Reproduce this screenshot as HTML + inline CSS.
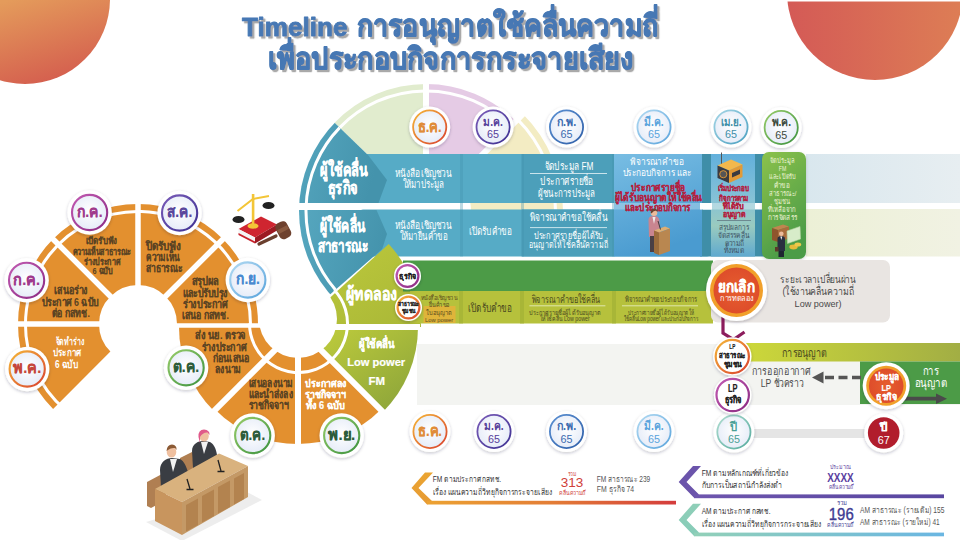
<!DOCTYPE html>
<html lang="th"><head><meta charset="utf-8"><title>Timeline การอนุญาตใช้คลื่นความถี่เพื่อประกอบกิจการกระจายเสียง</title>
<style>
html,body{margin:0;padding:0;background:#fff;}
body{width:960px;height:540px;overflow:hidden;position:relative;font-family:"Liberation Sans",sans-serif;}
svg{position:absolute;left:0;top:0;display:block;}
svg text{font-family:"Liberation Sans",sans-serif;white-space:pre;}
</style></head><body>
<svg width="960" height="540" viewBox="0 0 960 540">
<defs>
<linearGradient id="gTL" gradientUnits="userSpaceOnUse" x1="10" y1="0" x2="35" y2="84"><stop offset="0" stop-color="#e49b5b"/><stop offset="1" stop-color="#d5614f"/></linearGradient>
<linearGradient id="gTR" gradientUnits="userSpaceOnUse" x1="788" y1="0" x2="960" y2="0"><stop offset="0" stop-color="#d45a56"/><stop offset="1" stop-color="#dd7d55"/></linearGradient>
<linearGradient id="gTeal" x1="0" y1="0" x2="1" y2="0.3"><stop offset="0" stop-color="#58a9c1"/><stop offset="1" stop-color="#4493ac"/></linearGradient>
<linearGradient id="gLP" x1="0" y1="0" x2="1" y2="1"><stop offset="0" stop-color="#c5d13c"/><stop offset="1" stop-color="#88a13a"/></linearGradient>
<linearGradient id="gTest" x1="0" y1="0" x2="1" y2="1"><stop offset="0" stop-color="#bfcb3c"/><stop offset="1" stop-color="#a9b737"/></linearGradient>
<linearGradient id="gRow1R" x1="0" y1="0" x2="1" y2="0"><stop offset="0" stop-color="#d9e7ee"/><stop offset="1" stop-color="#e7eef1"/></linearGradient>
<linearGradient id="gRow2R" x1="0" y1="0" x2="1" y2="0"><stop offset="0" stop-color="#ecf0d6"/><stop offset="1" stop-color="#f1f2e3"/></linearGradient>
<linearGradient id="gD" x1="0" y1="0" x2="0.3" y2="1"><stop offset="0" stop-color="#78bde3"/><stop offset="1" stop-color="#4a9bd0"/></linearGradient>
<linearGradient id="gE" x1="0" y1="0" x2="0" y2="1"><stop offset="0" stop-color="#62b0dc"/><stop offset="0.45" stop-color="#86c2d6"/><stop offset="0.7" stop-color="#9acbbf"/><stop offset="1" stop-color="#5fa9cf"/></linearGradient>
<linearGradient id="gF" x1="0" y1="0" x2="0.4" y2="1"><stop offset="0" stop-color="#8cc24c"/><stop offset="1" stop-color="#4c9c47"/></linearGradient>
<linearGradient id="gAnu" x1="0" y1="0" x2="1" y2="0"><stop offset="0" stop-color="#cdd83a"/><stop offset="1" stop-color="#a2ae44"/></linearGradient>
<linearGradient id="gFM" x1="0" y1="0" x2="1" y2="0"><stop offset="0" stop-color="#eca232"/><stop offset="0.5" stop-color="#e37d36"/><stop offset="1" stop-color="#d43c3c"/></linearGradient>
<linearGradient id="gFMc" x1="0" y1="0" x2="0" y2="1"><stop offset="0" stop-color="#eba532"/><stop offset="1" stop-color="#e69a34"/></linearGradient>
<linearGradient id="gPur" x1="0" y1="0" x2="1" y2="0"><stop offset="0" stop-color="#6e56ae"/><stop offset="1" stop-color="#5846a0"/></linearGradient>
<linearGradient id="gAM" x1="0" y1="0" x2="1" y2="0"><stop offset="0" stop-color="#92d0b8"/><stop offset="1" stop-color="#6ab6e2"/></linearGradient>
<linearGradient id="gAMc" x1="0" y1="0" x2="0" y2="1"><stop offset="0" stop-color="#8fcfb8"/><stop offset="1" stop-color="#86cbb8"/></linearGradient>
<linearGradient id="rOr" x1="0" y1="0" x2="1" y2="1"><stop offset="0" stop-color="#f5b738"/><stop offset="1" stop-color="#d9412f"/></linearGradient>
<linearGradient id="rMag" x1="0" y1="0" x2="1" y2="1"><stop offset="0" stop-color="#c25bb2"/><stop offset="1" stop-color="#8b2a83"/></linearGradient>
<linearGradient id="rPur" x1="0" y1="0" x2="1" y2="1"><stop offset="0" stop-color="#7a5cb8"/><stop offset="1" stop-color="#3e3192"/></linearGradient>
<linearGradient id="rBlu" x1="0" y1="0" x2="1" y2="1"><stop offset="0" stop-color="#5b90d2"/><stop offset="1" stop-color="#2f5fa8"/></linearGradient>
<linearGradient id="rLb" x1="0" y1="0" x2="1" y2="1"><stop offset="0" stop-color="#b2daf2"/><stop offset="1" stop-color="#5aa4dc"/></linearGradient>
<linearGradient id="rTl" x1="0" y1="0" x2="1" y2="1"><stop offset="0" stop-color="#a6d6e6"/><stop offset="1" stop-color="#4aa0c0"/></linearGradient>
<linearGradient id="rGr" x1="0" y1="0" x2="1" y2="1"><stop offset="0" stop-color="#98cc6a"/><stop offset="1" stop-color="#3c923f"/></linearGradient>
<linearGradient id="rTg" x1="0" y1="0" x2="1" y2="1"><stop offset="0" stop-color="#b0dcd0"/><stop offset="1" stop-color="#55ab9e"/></linearGradient>
<radialGradient id="cIn" cx="0.5" cy="0.45" r="0.55"><stop offset="0" stop-color="#ffffff"/><stop offset="1" stop-color="#e6ecf8"/></radialGradient>
<radialGradient id="gRed" cx="0.5" cy="0.5" r="0.5"><stop offset="0" stop-color="#e65e2e"/><stop offset="1" stop-color="#de4d2b"/></radialGradient>
<filter id="sh" x="-40%" y="-40%" width="180%" height="180%"><feDropShadow dx="0" dy="1.2" stdDeviation="1.8" flood-color="#1a2040" flood-opacity="0.25"/></filter>
<filter id="sh2" x="-10%" y="-10%" width="120%" height="130%"><feDropShadow dx="0" dy="1" stdDeviation="1.5" flood-color="#000" flood-opacity="0.18"/></filter>
<filter id="tsh" x="-5%" y="-20%" width="110%" height="150%"><feDropShadow dx="2.2" dy="2.2" stdDeviation="0.5" flood-color="#a9a9a9" flood-opacity="1"/></filter>
<clipPath id="cC3"><circle cx="426" cy="211" r="127"/></clipPath>
</defs>

<circle cx="25" cy="-1" r="85" fill="url(#gTL)"/>
<circle cx="875" cy="-8" r="88" fill="url(#gTR)"/>
<rect x="780" y="0" width="180" height="1.5" fill="#fff"/>
<path d="M334.6,122.8 A127,127 0 0 1 426,84 L426,166 A45,45 0 0 0 393.6,179.7 Z" fill="#e1ecce"/>
<path d="M426,84 A127,127 0 0 1 515.8,121.2 L457.8,179.2 A45,45 0 0 0 426,166 Z" fill="#e5cbe5"/>
<path d="M522.9,114.1 A137,137 0 0 1 563,211 L471,211 A45,45 0 0 0 457.8,179.2 Z" fill="#f3ecc3"/>
<path d="M339.7,127.6 A120,120 0 0 1 510.9,126.1" stroke="#fff" stroke-width="3" fill="none"/>
<path d="M517.6,119.4 A129.5,129.5 0 0 1 555.5,211" stroke="#fff" stroke-width="3" fill="none"/>
<path d="M426,168 L426,71" stroke="#fff" stroke-width="6" fill="none"/>
<path d="M456.4,180.6 L525,112" stroke="#fff" stroke-width="6" fill="none"/>
<rect x="360" y="154" width="350" height="49" fill="#56abc6"/>
<rect x="360" y="209.5" width="350" height="47" rx="3" fill="#56abc6"/>
<rect x="522" y="154" width="92" height="49" fill="#4c9fba"/>
<rect x="522" y="209.5" width="92" height="47" fill="#4c9fba"/>
<rect x="460" y="154" width="3" height="102.5" fill="#4393ad" opacity="0.35"/>
<rect x="521" y="154" width="3" height="102.5" fill="#4393ad" opacity="0.35"/>
<rect x="612" y="154" width="3" height="102.5" fill="#4393ad" opacity="0.35"/>
<rect x="806" y="154" width="154" height="49" fill="url(#gRow1R)"/>
<rect x="806" y="209" width="154" height="47.5" fill="url(#gRow2R)"/>
<rect x="700" y="154" width="64" height="102.5" fill="#3f8ea8"/>
<rect x="614" y="154" width="88" height="102.5" fill="url(#gD)"/>
<rect x="711" y="154" width="44" height="102.5" fill="url(#gE)"/>
<rect x="700" y="203" width="12" height="6.5" fill="#fff"/>
<rect x="755" y="203" width="8" height="6.5" fill="#fff"/>
<rect x="703" y="203" width="8" height="6.5" fill="#fff"/>
<g filter="url(#sh2)"><rect x="762" y="152" width="44" height="107" rx="7" fill="url(#gF)"/></g>
<rect x="614" y="203" width="88" height="6.5" fill="#fff" opacity="0.28"/>
<rect x="711" y="203" width="44" height="6.5" fill="#fff" opacity="0.35"/>
<g clip-path="url(#cC3)">
<path d="M368,155 L318.1,106.8 L290,100 L290,203 L378.5,203 L387,180 Z" fill="url(#gTeal)"/>
<path d="M290,210 L376.5,210 L387,234 L382.2,249.1 L312.8,309.4 L290,320 Z" fill="url(#gTeal)"/>
</g>
<path d="M335.4,289.7 A120,120 0 0 1 339.7,127.6" stroke="#fff" stroke-width="3" fill="none"/>
<rect x="294" y="203" width="66" height="7" fill="#fff"/>
<path d="M53.1,408.9 A120,120 0 0 1 18,324 L99,324 A39,39 0 0 0 110.4,351.6 Z" fill="#e3902f"/>
<path d="M18,324 A120,120 0 0 1 53.1,239.1 L110.4,296.4 A39,39 0 0 0 99,324 Z" fill="#e3902f"/>
<path d="M53.1,239.1 A120,120 0 0 1 138,204 L138,285 A39,39 0 0 0 110.4,296.4 Z" fill="#e3902f"/>
<path d="M138,204 A120,120 0 0 1 222.9,239.1 L165.6,296.4 A39,39 0 0 0 138,285 Z" fill="#e3902f"/>
<path d="M222.9,239.1 A120,120 0 0 1 258,324 L177,324 A39,39 0 0 0 165.6,296.4 Z" fill="#e3902f"/>
<path d="M65.7,410.2 A112.5,112.5 0 1 1 250.5,324" stroke="#fff" stroke-width="3" fill="none"/>
<path d="M101,324 L16,324" stroke="#fff" stroke-width="5.5" fill="none"/>
<path d="M111.8,297.8 L51.7,237.7" stroke="#fff" stroke-width="5.5" fill="none"/>
<path d="M138,287 L138,202" stroke="#fff" stroke-width="5.5" fill="none"/>
<path d="M164.2,297.8 L224.3,237.7" stroke="#fff" stroke-width="5.5" fill="none"/>
<path d="M213.9,411.1 A119,119 0 0 1 179,327 L298,327 Z" fill="#e3902f"/>
<path d="M298,444 A117,117 0 0 1 215.3,409.7 L298,327 Z" fill="#e3902f"/>
<path d="M380.7,409.7 A117,117 0 0 1 298,444 L298,327 Z" fill="#e3902f"/>
<path d="M418,327 A120,120 0 0 1 382.9,411.9 L298,327 Z" fill="url(#gLP)"/>
<path d="M388.7,243.9 A123,123 0 0 1 421,327 L298,327 Z" fill="url(#gTest)"/>
<circle cx="298" cy="319" r="39" fill="#fff"/>
<rect x="403" y="260.5" width="310" height="31" fill="#4c9b47"/>
<rect x="410" y="291" width="303" height="32.5" fill="#b6c13c"/>
<rect x="459" y="291" width="4" height="32.5" fill="#a3b034" opacity="0.7"/>
<rect x="520" y="291" width="4" height="32.5" fill="#a3b034" opacity="0.7"/>
<rect x="612" y="291" width="4" height="32.5" fill="#a3b034" opacity="0.7"/>
<rect x="423.5" y="306" width="32" height="17" fill="#dfb43a"/>
<path d="M249.5,323.5 A49,49 0 1 0 334.3,290.1" stroke="#fff" stroke-width="3" fill="none"/>
<path d="M283.9,341.1 L211.7,413.3" stroke="#fff" stroke-width="6" fill="none"/>
<path d="M298,347 L298,449" stroke="#fff" stroke-width="6" fill="none"/>
<path d="M312.1,341.1 L384.3,413.3" stroke="#fff" stroke-width="6" fill="none"/>
<path d="M318,327 L420,327" stroke="#fff" stroke-width="6" fill="none"/>
<path d="M176,325.5 L262,325.5" stroke="#fff" stroke-width="4.5"/>
<rect x="417" y="344" width="543" height="61" fill="#f3f4f1"/>
<rect x="711" y="260" width="179" height="62.5" rx="7" fill="#e9e5e2"/>
<polyline points="723,316 723,333 733.5,339.5 744.5,332" fill="none" stroke="#8c1c5c" stroke-width="3.2" stroke-linejoin="miter"/>
<g filter="url(#sh)"><circle cx="736.5" cy="290.5" r="30.5" fill="#fff"/></g>
<circle cx="736.5" cy="290.5" r="26.5" fill="#f1a02b"/>
<circle cx="736.5" cy="290.5" r="23" fill="url(#gRed)"/>
<rect x="743" y="343" width="217" height="18.5" fill="url(#gAnu)"/>
<rect x="860" y="361.5" width="100" height="42.5" fill="#4c9b47"/>
<line x1="861" y1="377.5" x2="823" y2="377.5" stroke="#555" stroke-width="3.7" stroke-dasharray="9,4.5"/>
<path d="M812,377.5 L823.5,371.5 L823.5,383.5 Z" fill="#555"/>
<line x1="900" y1="398.7" x2="938" y2="398.7" stroke="#4a4a4a" stroke-width="3.7"/>
<path d="M947,398.7 L936,393.5 L936,404 Z" fill="#4a4a4a"/>
<g filter="url(#sh)"><circle cx="886.2" cy="385.8" r="23.5" fill="#fff"/></g>
<circle cx="886.2" cy="385.8" r="20" fill="#f1a02b"/>
<circle cx="886.2" cy="385.8" r="17.3" fill="url(#gRed)"/>
<rect x="752" y="429" width="125" height="9" fill="#e5e5e5"/>
<g filter="url(#sh)"><circle cx="27.2" cy="369" r="22.2" fill="#fff"/></g>
<circle cx="27.2" cy="369" r="17.6" fill="url(#cIn)" stroke="url(#rOr)" stroke-width="2.1"/>
<text x="13.2" y="373.4" font-size="16" fill="#c5463a" font-weight="bold" stroke="#c5463a" stroke-width="0.2" stroke-linejoin="round" textLength="28" lengthAdjust="spacingAndGlyphs">พ.ค.</text>
<g filter="url(#sh)"><circle cx="26.6" cy="280.3" r="22.2" fill="#fff"/></g>
<circle cx="26.6" cy="280.3" r="17.6" fill="url(#cIn)" stroke="url(#rMag)" stroke-width="2.1"/>
<text x="13.1" y="284.7" font-size="16" fill="#a03a8c" font-weight="bold" stroke="#a03a8c" stroke-width="0.2" stroke-linejoin="round" textLength="27" lengthAdjust="spacingAndGlyphs">ก.ค.</text>
<g filter="url(#sh)"><circle cx="89.6" cy="212.5" r="22.2" fill="#fff"/></g>
<circle cx="89.6" cy="212.5" r="17.6" fill="url(#cIn)" stroke="url(#rMag)" stroke-width="2.1"/>
<text x="76.6" y="216.9" font-size="16" fill="#a03a8c" font-weight="bold" stroke="#a03a8c" stroke-width="0.2" stroke-linejoin="round" textLength="26" lengthAdjust="spacingAndGlyphs">ก.ค.</text>
<g filter="url(#sh)"><circle cx="179.6" cy="213" r="22.2" fill="#fff"/></g>
<circle cx="179.6" cy="213" r="17.6" fill="url(#cIn)" stroke="url(#rPur)" stroke-width="2.1"/>
<text x="166.8" y="217.4" font-size="16" fill="#5a479c" font-weight="bold" stroke="#5a479c" stroke-width="0.2" stroke-linejoin="round" textLength="25.5" lengthAdjust="spacingAndGlyphs">ส.ค.</text>
<g filter="url(#sh)"><circle cx="247.8" cy="280" r="22.2" fill="#fff"/></g>
<circle cx="247.8" cy="280" r="17.6" fill="url(#cIn)" stroke="url(#rLb)" stroke-width="2.1"/>
<text x="235.8" y="284.4" font-size="16" fill="#4a8ad0" font-weight="bold" stroke="#4a8ad0" stroke-width="0.2" stroke-linejoin="round" textLength="24" lengthAdjust="spacingAndGlyphs">ก.ย.</text>
<g filter="url(#sh)"><circle cx="186.1" cy="367.8" r="22.2" fill="#fff"/></g>
<circle cx="186.1" cy="367.8" r="17.6" fill="url(#cIn)" stroke="url(#rGr)" stroke-width="2.1"/>
<text x="173.1" y="372.2" font-size="16" fill="#2d5c3a" font-weight="bold" stroke="#2d5c3a" stroke-width="0.2" stroke-linejoin="round" textLength="26" lengthAdjust="spacingAndGlyphs">ต.ค.</text>
<g filter="url(#sh)"><circle cx="252.7" cy="435.5" r="22.2" fill="#fff"/></g>
<circle cx="252.7" cy="435.5" r="17.6" fill="url(#cIn)" stroke="url(#rGr)" stroke-width="2.1"/>
<text x="240.2" y="439.9" font-size="16" fill="#2d5c3a" font-weight="bold" stroke="#2d5c3a" stroke-width="0.2" stroke-linejoin="round" textLength="25" lengthAdjust="spacingAndGlyphs">ต.ค.</text>
<g filter="url(#sh)"><circle cx="341.7" cy="435.5" r="22.2" fill="#fff"/></g>
<circle cx="341.7" cy="435.5" r="17.6" fill="url(#cIn)" stroke="url(#rGr)" stroke-width="2.1"/>
<text x="328.2" y="439.9" font-size="16" fill="#2d5c3a" font-weight="bold" stroke="#2d5c3a" stroke-width="0.2" stroke-linejoin="round" textLength="27" lengthAdjust="spacingAndGlyphs">พ.ย.</text>
<g filter="url(#sh)"><circle cx="429.7" cy="127" r="20.5" fill="#fff"/></g>
<circle cx="429.7" cy="127" r="16.6" fill="url(#cIn)" stroke="url(#rOr)" stroke-width="1.8"/>
<text x="417.8" y="131.6" font-size="15" fill="#e08c38" font-weight="bold" stroke="#e08c38" stroke-width="0.2" stroke-linejoin="round" textLength="23.8" lengthAdjust="spacingAndGlyphs">ธ.ค.</text>
<g filter="url(#sh)"><circle cx="493.1" cy="127" r="20.5" fill="#fff"/></g>
<circle cx="493.1" cy="127" r="16.6" fill="url(#cIn)" stroke="url(#rPur)" stroke-width="1.8"/>
<text x="483.4" y="125.7" font-size="12" fill="#56409a" font-weight="bold" textLength="19.5" lengthAdjust="spacingAndGlyphs">ม.ค.</text>
<text x="487.1" y="138.2" font-size="10.8" fill="#56409a" textLength="12" lengthAdjust="spacingAndGlyphs">65</text>
<g filter="url(#sh)"><circle cx="566.5" cy="127" r="20.5" fill="#fff"/></g>
<circle cx="566.5" cy="127" r="16.6" fill="url(#cIn)" stroke="url(#rBlu)" stroke-width="1.8"/>
<text x="556.8" y="125.7" font-size="12" fill="#3b6bb0" font-weight="bold" textLength="19.5" lengthAdjust="spacingAndGlyphs">ก.พ.</text>
<text x="560.5" y="138.2" font-size="10.8" fill="#3b6bb0" textLength="12" lengthAdjust="spacingAndGlyphs">65</text>
<g filter="url(#sh)"><circle cx="654" cy="127" r="20.5" fill="#fff"/></g>
<circle cx="654" cy="127" r="16.6" fill="url(#cIn)" stroke="url(#rLb)" stroke-width="1.8"/>
<text x="644.2" y="125.7" font-size="12" fill="#5aa4dc" font-weight="bold" textLength="19.5" lengthAdjust="spacingAndGlyphs">มี.ค.</text>
<text x="648" y="138.2" font-size="10.8" fill="#5aa4dc" textLength="12" lengthAdjust="spacingAndGlyphs">65</text>
<g filter="url(#sh)"><circle cx="731" cy="127" r="20.5" fill="#fff"/></g>
<circle cx="731" cy="127" r="16.6" fill="url(#cIn)" stroke="url(#rTl)" stroke-width="1.8"/>
<text x="720.5" y="125.7" font-size="12" fill="#3f8fa8" font-weight="bold" textLength="21" lengthAdjust="spacingAndGlyphs">เม.ย.</text>
<text x="725" y="138.2" font-size="10.8" fill="#3f8fa8" textLength="12" lengthAdjust="spacingAndGlyphs">65</text>
<g filter="url(#sh)"><circle cx="781.2" cy="127.5" r="20.5" fill="#fff"/></g>
<circle cx="781.2" cy="127.5" r="16.6" fill="url(#cIn)" stroke="url(#rGr)" stroke-width="1.8"/>
<text x="771.5" y="126.2" font-size="12" fill="#3d4a3d" font-weight="bold" textLength="19.5" lengthAdjust="spacingAndGlyphs">พ.ค.</text>
<text x="775.2" y="138.7" font-size="10.8" fill="#3d4a3d" textLength="12" lengthAdjust="spacingAndGlyphs">65</text>
<g filter="url(#sh)"><circle cx="430" cy="431.5" r="20.5" fill="#fff"/></g>
<circle cx="430" cy="431.5" r="16.6" fill="url(#cIn)" stroke="url(#rOr)" stroke-width="1.8"/>
<text x="418.1" y="436.1" font-size="15" fill="#e08c38" font-weight="bold" stroke="#e08c38" stroke-width="0.2" stroke-linejoin="round" textLength="23.8" lengthAdjust="spacingAndGlyphs">ธ.ค.</text>
<g filter="url(#sh)"><circle cx="494" cy="431.5" r="20.5" fill="#fff"/></g>
<circle cx="494" cy="431.5" r="16.6" fill="url(#cIn)" stroke="url(#rPur)" stroke-width="1.8"/>
<text x="484.2" y="430.2" font-size="12" fill="#56409a" font-weight="bold" textLength="19.5" lengthAdjust="spacingAndGlyphs">ม.ค.</text>
<text x="488" y="442.7" font-size="10.8" fill="#56409a" textLength="12" lengthAdjust="spacingAndGlyphs">65</text>
<g filter="url(#sh)"><circle cx="566.5" cy="431.5" r="20.5" fill="#fff"/></g>
<circle cx="566.5" cy="431.5" r="16.6" fill="url(#cIn)" stroke="url(#rBlu)" stroke-width="1.8"/>
<text x="556.8" y="430.2" font-size="12" fill="#3b6bb0" font-weight="bold" textLength="19.5" lengthAdjust="spacingAndGlyphs">ก.พ.</text>
<text x="560.5" y="442.7" font-size="10.8" fill="#3b6bb0" textLength="12" lengthAdjust="spacingAndGlyphs">65</text>
<g filter="url(#sh)"><circle cx="654" cy="431.5" r="20.5" fill="#fff"/></g>
<circle cx="654" cy="431.5" r="16.6" fill="url(#cIn)" stroke="url(#rLb)" stroke-width="1.8"/>
<text x="644.2" y="430.2" font-size="12" fill="#5aa4dc" font-weight="bold" textLength="19.5" lengthAdjust="spacingAndGlyphs">มี.ค.</text>
<text x="648" y="442.7" font-size="10.8" fill="#5aa4dc" textLength="12" lengthAdjust="spacingAndGlyphs">65</text>
<g filter="url(#sh)"><circle cx="733.9" cy="432" r="20.5" fill="#fff"/></g>
<circle cx="733.9" cy="432" r="16.6" fill="url(#cIn)" stroke="url(#rTg)" stroke-width="1.8"/>
<text x="730.1" y="430.7" font-size="12" fill="#4aa096" font-weight="bold" textLength="7.5" lengthAdjust="spacingAndGlyphs">ปี</text>
<text x="727.9" y="443.2" font-size="10.8" fill="#4aa096" textLength="12" lengthAdjust="spacingAndGlyphs">65</text>
<g filter="url(#sh)"><circle cx="883.7" cy="433" r="19.5" fill="#fff"/></g>
<circle cx="883.7" cy="433" r="15.8" fill="#b11d2c"/>
<text x="880" y="431" font-size="11" fill="#fff" font-weight="bold" stroke="#fff" stroke-width="0.22" stroke-linejoin="round" textLength="7.4" lengthAdjust="spacingAndGlyphs">ปี</text>
<text x="877.7" y="443.5" font-size="10.5" fill="#fff" textLength="12" lengthAdjust="spacingAndGlyphs">67</text>
<g filter="url(#sh)"><circle cx="407.5" cy="276" r="13.5" fill="#fff"/></g>
<circle cx="407.5" cy="276" r="10.9" fill="#fff" stroke="url(#rMag)" stroke-width="2.2"/>
<text x="399" y="279" font-size="7.5" fill="#222" font-weight="bold" stroke="#222" stroke-width="0.15" stroke-linejoin="round" textLength="17" lengthAdjust="spacingAndGlyphs">ธุรกิจ</text>
<g filter="url(#sh)"><circle cx="408.5" cy="307.5" r="13.5" fill="#fff"/></g>
<circle cx="408.5" cy="307.5" r="10.9" fill="#fff" stroke="url(#rOr)" stroke-width="2.2"/>
<text x="398" y="306" font-size="5.8" fill="#222" font-weight="bold" stroke="#222" stroke-width="0.12" stroke-linejoin="round" textLength="21" lengthAdjust="spacingAndGlyphs">สาธารณะ</text>
<text x="401.5" y="313" font-size="5.8" fill="#222" font-weight="bold" stroke="#222" stroke-width="0.12" stroke-linejoin="round" textLength="14" lengthAdjust="spacingAndGlyphs">ชุมชน</text>
<g filter="url(#sh)"><circle cx="732.3" cy="356.5" r="19.2" fill="#fff"/></g>
<circle cx="732.3" cy="356.5" r="16.6" fill="#fff" stroke="url(#rOr)" stroke-width="2.2"/>
<text x="729.3" y="349" font-size="7" fill="#222" font-weight="bold" stroke="#222" stroke-width="0.14" stroke-linejoin="round" textLength="6" lengthAdjust="spacingAndGlyphs">LP</text>
<text x="719" y="358" font-size="7.5" fill="#222" font-weight="bold" stroke="#222" stroke-width="0.15" stroke-linejoin="round" textLength="26.5" lengthAdjust="spacingAndGlyphs">สาธารณะ</text>
<text x="723.5" y="366.5" font-size="7.5" fill="#222" font-weight="bold" stroke="#222" stroke-width="0.15" stroke-linejoin="round" textLength="18" lengthAdjust="spacingAndGlyphs">ชุมชน</text>
<g filter="url(#sh)"><circle cx="732.7" cy="395" r="18.8" fill="#fff"/></g>
<circle cx="732.7" cy="395" r="16.2" fill="#fff" stroke="url(#rMag)" stroke-width="2.2"/>
<text x="728" y="391.5" font-size="10" fill="#222" font-weight="bold" stroke="#222" stroke-width="0.2" stroke-linejoin="round" textLength="9.5" lengthAdjust="spacingAndGlyphs">LP</text>
<text x="724.5" y="402.5" font-size="10" fill="#222" font-weight="bold" stroke="#222" stroke-width="0.2" stroke-linejoin="round" textLength="17" lengthAdjust="spacingAndGlyphs">ธุรกิจ</text>
<g filter="url(#tsh)" fill="#4678b4">
<text x="242" y="36" font-size="26.5" fill="#4678b4" font-weight="bold" stroke="#4678b4" stroke-width="0.9" stroke-linejoin="round" textLength="105.5" lengthAdjust="spacingAndGlyphs">Timeline</text>
<text x="357" y="36" font-size="30" fill="#4678b4" font-weight="bold" stroke="#4678b4" stroke-width="1.1" stroke-linejoin="round" textLength="301.5" lengthAdjust="spacingAndGlyphs">การอนุญาตใช้คลื่นความถี่</text>
<text x="268" y="69" font-size="30" fill="#4678b4" font-weight="bold" stroke="#4678b4" stroke-width="1.1" stroke-linejoin="round" textLength="366" lengthAdjust="spacingAndGlyphs">เพื่อประกอบกิจการกระจายเสียง</text>
</g>
<text x="55.5" y="344.5" font-size="10.5" fill="#fff" font-weight="bold" textLength="28.5" lengthAdjust="spacingAndGlyphs">จัดทำร่าง</text>
<text x="52.5" y="356" font-size="10.5" fill="#fff" font-weight="bold" textLength="29" lengthAdjust="spacingAndGlyphs">ประกาศ</text>
<text x="55" y="367.5" font-size="10.5" fill="#fff" font-weight="bold" textLength="23.5" lengthAdjust="spacingAndGlyphs">6 ฉบับ</text>
<text x="54" y="294" font-size="11.5" fill="#5a4323" font-weight="bold" stroke="#5a4323" stroke-width="0.05" stroke-linejoin="round" textLength="34" lengthAdjust="spacingAndGlyphs">เสนอร่าง</text>
<text x="41.5" y="305.5" font-size="11.5" fill="#5a4323" font-weight="bold" stroke="#5a4323" stroke-width="0.05" stroke-linejoin="round" textLength="57" lengthAdjust="spacingAndGlyphs">ประกาศ 6 ฉบับ</text>
<text x="51.5" y="317" font-size="11.5" fill="#5a4323" font-weight="bold" stroke="#5a4323" stroke-width="0.05" stroke-linejoin="round" textLength="38.5" lengthAdjust="spacingAndGlyphs">ต่อ กสทช.</text>
<text x="86" y="243.5" font-size="9.5" fill="#5a4323" font-weight="bold" stroke="#5a4323" stroke-width="0.05" stroke-linejoin="round" textLength="31.5" lengthAdjust="spacingAndGlyphs">เปิดรับฟัง</text>
<text x="72.5" y="255" font-size="9.5" fill="#5a4323" font-weight="bold" stroke="#5a4323" stroke-width="0.05" stroke-linejoin="round" textLength="58.5" lengthAdjust="spacingAndGlyphs">ความเห็นสาธารณะ</text>
<text x="84" y="265" font-size="9.5" fill="#5a4323" font-weight="bold" stroke="#5a4323" stroke-width="0.05" stroke-linejoin="round" textLength="36" lengthAdjust="spacingAndGlyphs">ร่างประกาศ</text>
<text x="92.5" y="274" font-size="9.5" fill="#5a4323" font-weight="bold" stroke="#5a4323" stroke-width="0.05" stroke-linejoin="round" textLength="20" lengthAdjust="spacingAndGlyphs">6 ฉบับ</text>
<text x="146" y="250" font-size="11.5" fill="#5a4323" font-weight="bold" stroke="#5a4323" stroke-width="0.05" stroke-linejoin="round" textLength="35" lengthAdjust="spacingAndGlyphs">ปิดรับฟัง</text>
<text x="146" y="261" font-size="11.5" fill="#5a4323" font-weight="bold" stroke="#5a4323" stroke-width="0.05" stroke-linejoin="round" textLength="34" lengthAdjust="spacingAndGlyphs">ความเห็น</text>
<text x="146" y="272" font-size="11.5" fill="#5a4323" font-weight="bold" stroke="#5a4323" stroke-width="0.05" stroke-linejoin="round" textLength="36.5" lengthAdjust="spacingAndGlyphs">สาธารณะ</text>
<text x="191.5" y="285" font-size="11.5" fill="#5a4323" font-weight="bold" stroke="#5a4323" stroke-width="0.05" stroke-linejoin="round" textLength="27.5" lengthAdjust="spacingAndGlyphs">สรุปผล</text>
<text x="182.5" y="296.5" font-size="11.5" fill="#5a4323" font-weight="bold" stroke="#5a4323" stroke-width="0.05" stroke-linejoin="round" textLength="45.5" lengthAdjust="spacingAndGlyphs">และปรับปรุง</text>
<text x="183" y="307.5" font-size="11.5" fill="#5a4323" font-weight="bold" stroke="#5a4323" stroke-width="0.05" stroke-linejoin="round" textLength="44.5" lengthAdjust="spacingAndGlyphs">ร่างประกาศ</text>
<text x="181.5" y="319" font-size="11.5" fill="#5a4323" font-weight="bold" stroke="#5a4323" stroke-width="0.05" stroke-linejoin="round" textLength="47.5" lengthAdjust="spacingAndGlyphs">เสนอ กสทช.</text>
<text x="195" y="338.5" font-size="11.5" fill="#5a4323" font-weight="bold" stroke="#5a4323" stroke-width="0.05" stroke-linejoin="round" textLength="51" lengthAdjust="spacingAndGlyphs">ส่ง นย. ตรวจ</text>
<text x="201.5" y="350.5" font-size="11.5" fill="#5a4323" font-weight="bold" stroke="#5a4323" stroke-width="0.05" stroke-linejoin="round" textLength="44.5" lengthAdjust="spacingAndGlyphs">ร่างประกาศ</text>
<text x="212.5" y="361.5" font-size="11.5" fill="#5a4323" font-weight="bold" stroke="#5a4323" stroke-width="0.05" stroke-linejoin="round" textLength="37" lengthAdjust="spacingAndGlyphs">ก่อนเสนอ</text>
<text x="215" y="372.5" font-size="11.5" fill="#5a4323" font-weight="bold" stroke="#5a4323" stroke-width="0.05" stroke-linejoin="round" textLength="26" lengthAdjust="spacingAndGlyphs">ลงนาม</text>
<text x="248.5" y="386.5" font-size="11.5" fill="#5a4323" font-weight="bold" stroke="#5a4323" stroke-width="0.05" stroke-linejoin="round" textLength="44.5" lengthAdjust="spacingAndGlyphs">เสนอลงนาม</text>
<text x="248.5" y="397.5" font-size="11.5" fill="#5a4323" font-weight="bold" stroke="#5a4323" stroke-width="0.05" stroke-linejoin="round" textLength="44.5" lengthAdjust="spacingAndGlyphs">และนำส่งลง</text>
<text x="248.5" y="408.5" font-size="11.5" fill="#5a4323" font-weight="bold" stroke="#5a4323" stroke-width="0.05" stroke-linejoin="round" textLength="40" lengthAdjust="spacingAndGlyphs">ราชกิจจาฯ</text>
<text x="305" y="386.5" font-size="10.5" fill="#fff" font-weight="bold" stroke="#fff" stroke-width="0.21" stroke-linejoin="round" textLength="41" lengthAdjust="spacingAndGlyphs">ประกาศลง</text>
<text x="305" y="397.5" font-size="10.5" fill="#fff" font-weight="bold" stroke="#fff" stroke-width="0.21" stroke-linejoin="round" textLength="41.5" lengthAdjust="spacingAndGlyphs">ราชกิจจาฯ</text>
<text x="306" y="408.5" font-size="10.5" fill="#fff" font-weight="bold" stroke="#fff" stroke-width="0.21" stroke-linejoin="round" textLength="39" lengthAdjust="spacingAndGlyphs">ทั้ง 6 ฉบับ</text>
<text x="359" y="347.5" font-size="12" fill="#fff" font-weight="bold" stroke="#fff" stroke-width="0.24" stroke-linejoin="round" textLength="35" lengthAdjust="spacingAndGlyphs">ผู้ใช้คลื่น</text>
<text x="347.3" y="366.4" font-size="11.2" fill="#fff" font-weight="bold" stroke="#fff" stroke-width="0.22" stroke-linejoin="round" textLength="57.9" lengthAdjust="spacingAndGlyphs">Low power</text>
<text x="368.5" y="385.2" font-size="11.2" fill="#fff" font-weight="bold" stroke="#fff" stroke-width="0.22" stroke-linejoin="round" textLength="16.5" lengthAdjust="spacingAndGlyphs">FM</text>
<text x="345.7" y="300" font-size="18" fill="#fff" font-weight="bold" stroke="#fff" stroke-width="0.36" stroke-linejoin="round" textLength="51.8" lengthAdjust="spacingAndGlyphs">ผู้ทดลอง</text>
<text x="320" y="176" font-size="18" fill="#fff" font-weight="bold" stroke="#fff" stroke-width="0.36" stroke-linejoin="round" textLength="47.5" lengthAdjust="spacingAndGlyphs">ผู้ใช้คลื่น</text>
<text x="327.5" y="193.5" font-size="18" fill="#fff" font-weight="bold" stroke="#fff" stroke-width="0.36" stroke-linejoin="round" textLength="30.8" lengthAdjust="spacingAndGlyphs">ธุรกิจ</text>
<text x="320" y="231.5" font-size="18" fill="#fff" font-weight="bold" stroke="#fff" stroke-width="0.36" stroke-linejoin="round" textLength="45" lengthAdjust="spacingAndGlyphs">ผู้ใช้คลื่น</text>
<text x="317.5" y="251.5" font-size="18" fill="#fff" font-weight="bold" stroke="#fff" stroke-width="0.36" stroke-linejoin="round" textLength="51.2" lengthAdjust="spacingAndGlyphs">สาธารณะ</text>
<text x="394.7" y="176.5" font-size="11" fill="#fff" textLength="57.3" lengthAdjust="spacingAndGlyphs">หนังสือเชิญชวน</text>
<text x="402.5" y="187.5" font-size="11" fill="#fff" textLength="41.8" lengthAdjust="spacingAndGlyphs">ให้มาประมูล</text>
<text x="394.7" y="229" font-size="11" fill="#fff" textLength="57.3" lengthAdjust="spacingAndGlyphs">หนังสือเชิญชวน</text>
<text x="399.6" y="239.5" font-size="11" fill="#fff" textLength="48.6" lengthAdjust="spacingAndGlyphs">ให้มายื่นคำขอ</text>
<text x="468.7" y="235" font-size="11" fill="#fff" textLength="43.7" lengthAdjust="spacingAndGlyphs">เปิดรับคำขอ</text>
<text x="544.5" y="169.5" font-size="11" fill="#fff" textLength="49" lengthAdjust="spacingAndGlyphs">จัดประมูล FM</text>
<line x1="530" y1="173.5" x2="607" y2="173.5" stroke="#d8ecf2" stroke-width="0.9"/>
<text x="540.4" y="185" font-size="11" fill="#fff" textLength="53.1" lengthAdjust="spacingAndGlyphs">ประกาศรายชื่อ</text>
<text x="538.4" y="196.5" font-size="11" fill="#fff" textLength="57.1" lengthAdjust="spacingAndGlyphs">ผู้ชนะการประมูล</text>
<text x="530.2" y="221" font-size="11" fill="#fff" textLength="77.6" lengthAdjust="spacingAndGlyphs">พิจารณาคำขอใช้คลื่น</text>
<line x1="530" y1="227.6" x2="607" y2="227.6" stroke="#d8ecf2" stroke-width="0.9"/>
<text x="534.3" y="239" font-size="10" fill="#fff" textLength="68.4" lengthAdjust="spacingAndGlyphs">ประกาศรายชื่อผู้ได้รับ</text>
<text x="529.2" y="248" font-size="10" fill="#fff" textLength="78.6" lengthAdjust="spacingAndGlyphs">อนุญาตให้ใช้คลื่นความถี่</text>
<text x="630" y="164.5" font-size="10" fill="#fff" textLength="53.8" lengthAdjust="spacingAndGlyphs">พิจารณาคำขอ</text>
<text x="622.5" y="176" font-size="10" fill="#fff" textLength="68.8" lengthAdjust="spacingAndGlyphs">ประกอบกิจการ และ</text>
<text x="631" y="191" font-size="10.5" fill="#b4203e" font-weight="bold" stroke="#b4203e" stroke-width="0.21" stroke-linejoin="round" textLength="54" lengthAdjust="spacingAndGlyphs">ประกาศรายชื่อ</text>
<text x="614.5" y="201" font-size="10.5" fill="#b4203e" font-weight="bold" stroke="#b4203e" stroke-width="0.21" stroke-linejoin="round" textLength="87.5" lengthAdjust="spacingAndGlyphs">ผู้ได้รับอนุญาตให้ใช้คลื่น</text>
<text x="625" y="211" font-size="10.5" fill="#b4203e" font-weight="bold" stroke="#b4203e" stroke-width="0.21" stroke-linejoin="round" textLength="66" lengthAdjust="spacingAndGlyphs">และประกอบกิจการ</text>
<text x="717.5" y="190.5" font-size="8" fill="#b4203e" font-weight="bold" stroke="#b4203e" stroke-width="0.16" stroke-linejoin="round" textLength="31.3" lengthAdjust="spacingAndGlyphs">เริ่มประกอบ</text>
<text x="718.8" y="200.5" font-size="8" fill="#b4203e" font-weight="bold" stroke="#b4203e" stroke-width="0.16" stroke-linejoin="round" textLength="29.2" lengthAdjust="spacingAndGlyphs">กิจการตาม</text>
<text x="722.5" y="208.5" font-size="8" fill="#b4203e" font-weight="bold" stroke="#b4203e" stroke-width="0.16" stroke-linejoin="round" textLength="21.3" lengthAdjust="spacingAndGlyphs">ที่ได้รับ</text>
<text x="722.5" y="217" font-size="8" fill="#b4203e" font-weight="bold" stroke="#b4203e" stroke-width="0.16" stroke-linejoin="round" textLength="22.5" lengthAdjust="spacingAndGlyphs">อนุญาต</text>
<line x1="717" y1="220.5" x2="751" y2="220.5" stroke="#5b6f7a" stroke-width="0.7"/>
<text x="718.8" y="229.5" font-size="8" fill="#3e5262" textLength="30" lengthAdjust="spacingAndGlyphs">สรุปผลการ</text>
<text x="717.5" y="237.5" font-size="8" fill="#3e5262" textLength="31.3" lengthAdjust="spacingAndGlyphs">จัดสรรคลื่น</text>
<text x="725" y="245.5" font-size="8" fill="#3e5262" textLength="18.8" lengthAdjust="spacingAndGlyphs">ความถี่</text>
<text x="723.8" y="253" font-size="8" fill="#3e5262" textLength="20" lengthAdjust="spacingAndGlyphs">ทั้งหมด</text>
<text x="770" y="163" font-size="7.5" fill="#eef4d6" textLength="25" lengthAdjust="spacingAndGlyphs">จัดประมูล</text>
<text x="778.8" y="171" font-size="7" fill="#eef4d6" textLength="7.5" lengthAdjust="spacingAndGlyphs">FM</text>
<text x="768.8" y="179" font-size="7.5" fill="#eef4d6" textLength="27.5" lengthAdjust="spacingAndGlyphs">และเปิดรับ</text>
<text x="773.8" y="187.5" font-size="7.5" fill="#eef4d6" textLength="16.2" lengthAdjust="spacingAndGlyphs">คำขอ</text>
<text x="768.8" y="195.5" font-size="7.5" fill="#eef4d6" textLength="27.5" lengthAdjust="spacingAndGlyphs">สาธารณะ/</text>
<text x="773.8" y="204" font-size="7.5" fill="#eef4d6" textLength="15.7" lengthAdjust="spacingAndGlyphs">ชุมชน</text>
<text x="767.5" y="211.5" font-size="7.5" fill="#eef4d6" textLength="28.8" lengthAdjust="spacingAndGlyphs">ที่เหลือจาก</text>
<text x="767.5" y="219.5" font-size="7.5" fill="#eef4d6" textLength="30" lengthAdjust="spacingAndGlyphs">การจัดสรร</text>
<text x="421" y="299.5" font-size="6.5" fill="#5b4b1e" textLength="36" lengthAdjust="spacingAndGlyphs">หนังสือเชิญชวน</text>
<text x="429" y="307" font-size="6.5" fill="#5b4b1e" textLength="20.7" lengthAdjust="spacingAndGlyphs">ยื่นคำขอ</text>
<text x="426.3" y="314.5" font-size="6.5" fill="#5b4b1e" textLength="25.7" lengthAdjust="spacingAndGlyphs">ใบอนุญาต</text>
<text x="425" y="321.5" font-size="6" fill="#5b4b1e" textLength="28.3" lengthAdjust="spacingAndGlyphs">Low power</text>
<text x="467.9" y="311.5" font-size="12" fill="#4b4a20" textLength="43.7" lengthAdjust="spacingAndGlyphs">เปิดรับคำขอ</text>
<text x="531.5" y="302.5" font-size="10.5" fill="#4b4a20" textLength="68.7" lengthAdjust="spacingAndGlyphs">พิจารณาคำขอใช้คลื่น</text>
<line x1="529.4" y1="305.8" x2="605.4" y2="305.8" stroke="#e4ebb8" stroke-width="0.9"/>
<text x="529.4" y="314.5" font-size="7" fill="#4b4a20" textLength="71.8" lengthAdjust="spacingAndGlyphs">ประกาศรายชื่อผู้ได้รับอนุญาต</text>
<text x="539.8" y="321" font-size="7" fill="#4b4a20" textLength="50" lengthAdjust="spacingAndGlyphs">ให้ใช้คลื่น Low power</text>
<text x="625.2" y="302" font-size="8" fill="#4b4a20" textLength="71.8" lengthAdjust="spacingAndGlyphs">พิจารณาคำขอประกอบกิจการ</text>
<line x1="622" y1="305.8" x2="698" y2="305.8" stroke="#e4ebb8" stroke-width="0.9"/>
<text x="628.3" y="314.5" font-size="7" fill="#4b4a20" textLength="65.7" lengthAdjust="spacingAndGlyphs">ประกาศรายชื่อผู้ได้รับอนุญาตให้</text>
<text x="624.2" y="321" font-size="6.5" fill="#4b4a20" textLength="73.8" lengthAdjust="spacingAndGlyphs">ใช้คลื่นLow power และประกอบกิจการ</text>
<text x="718" y="292" font-size="16" fill="#fff" font-weight="bold" stroke="#fff" stroke-width="0.32" stroke-linejoin="round" textLength="37" lengthAdjust="spacingAndGlyphs">ยกเลิก</text>
<text x="720" y="300.5" font-size="8" fill="#fff" textLength="34" lengthAdjust="spacingAndGlyphs">การทดลอง</text>
<text x="780.3" y="283" font-size="10.5" fill="#4a4a4a" textLength="75.5" lengthAdjust="spacingAndGlyphs">ระยะเวลาเปลี่ยนผ่าน</text>
<text x="782.5" y="295" font-size="10.5" fill="#4a4a4a" textLength="71.1" lengthAdjust="spacingAndGlyphs">(ใช้งานคลื่นความถี่</text>
<text x="794.6" y="306.5" font-size="9.5" fill="#4a4a4a" textLength="47" lengthAdjust="spacingAndGlyphs">Low power)</text>
<text x="782" y="356.5" font-size="12" fill="#4b4a20" textLength="45" lengthAdjust="spacingAndGlyphs">การอนุญาต</text>
<text x="751.5" y="375" font-size="11" fill="#4a4a4a" textLength="59.2" lengthAdjust="spacingAndGlyphs">การออกอากาศ</text>
<text x="760.8" y="387" font-size="11" fill="#4a4a4a" textLength="42.5" lengthAdjust="spacingAndGlyphs">LP ชั่วคราว</text>
<text x="922.8" y="374.5" font-size="12" fill="#fff" textLength="15.9" lengthAdjust="spacingAndGlyphs">การ</text>
<text x="914.8" y="386.5" font-size="12" fill="#fff" textLength="32.4" lengthAdjust="spacingAndGlyphs">อนุญาต</text>
<text x="875" y="380" font-size="9.5" fill="#fff" font-weight="bold" stroke="#fff" stroke-width="0.19" stroke-linejoin="round" textLength="24" lengthAdjust="spacingAndGlyphs">ประมูล</text>
<text x="881.6" y="390.5" font-size="9.5" fill="#fff" font-weight="bold" stroke="#fff" stroke-width="0.19" stroke-linejoin="round" textLength="9.4" lengthAdjust="spacingAndGlyphs">LP</text>
<text x="876.3" y="400" font-size="9.5" fill="#fff" font-weight="bold" stroke="#fff" stroke-width="0.19" stroke-linejoin="round" textLength="21.3" lengthAdjust="spacingAndGlyphs">ธุรกิจ</text>
<path d="M425,472.4 L433,472.4 L418.5,488 L432,501 L427,504.5 L411.5,488 Z" fill="url(#gFMc)"/>
<rect x="427" y="500.8" width="249" height="3.7" fill="url(#gFM)"/>
<text x="432.7" y="482" font-size="8.5" fill="#333" textLength="68.5" lengthAdjust="spacingAndGlyphs">FM ตามประกาศ กสทช.</text>
<text x="432.7" y="494.7" font-size="8.5" fill="#333" textLength="119" lengthAdjust="spacingAndGlyphs">เรื่อง แผนความถี่วิทยุกิจการกระจายเสียง</text>
<text x="567.5" y="475.5" font-size="5.5" fill="#d0403a" textLength="9.2" lengthAdjust="spacingAndGlyphs">รวม</text>
<text x="560.8" y="486.5" font-size="12.5" fill="#d0403a" textLength="22.5" lengthAdjust="spacingAndGlyphs">313</text>
<text x="559" y="494.5" font-size="6" fill="#d0403a" textLength="27" lengthAdjust="spacingAndGlyphs">คลื่นความถี่</text>
<text x="596.7" y="482" font-size="8.5" fill="#555" textLength="53.6" lengthAdjust="spacingAndGlyphs">FM สาธารณะ 239</text>
<text x="596.7" y="492" font-size="8.5" fill="#555" textLength="37.5" lengthAdjust="spacingAndGlyphs">FM ธุรกิจ 74</text>
<path d="M693,465.9 L701,465.9 L686.5,482 L699,494.5 L694.3,498 L678.7,482 Z" fill="#6b54ab"/>
<rect x="694" y="494.4" width="250" height="3.8" fill="url(#gPur)"/>
<text x="701.7" y="476" font-size="8.5" fill="#333" textLength="86.6" lengthAdjust="spacingAndGlyphs">FM ตามหลักเกณฑ์ที่เกี่ยวข้อง</text>
<text x="701.7" y="488" font-size="8.5" fill="#333" textLength="80.7" lengthAdjust="spacingAndGlyphs">กับการเป็นสถานีกำลังส่งต่ำ</text>
<text x="830.3" y="469" font-size="5.5" fill="#5a40a0" textLength="20.3" lengthAdjust="spacingAndGlyphs">ประมาณ</text>
<text x="827.2" y="482" font-size="12.5" fill="#5a40a0" font-weight="bold" textLength="26.5" lengthAdjust="spacingAndGlyphs">XXXX</text>
<text x="828.8" y="489" font-size="6" fill="#5a40a0" textLength="24.9" lengthAdjust="spacingAndGlyphs">คลื่นความถี่</text>
<path d="M693,503.7 L701,503.7 L686.5,520 L699,532.6 L694.3,536.3 L678.7,520 Z" fill="url(#gAMc)"/>
<rect x="694" y="532.6" width="250" height="3.7" fill="url(#gAM)"/>
<text x="701.7" y="514" font-size="8.5" fill="#333" textLength="68.9" lengthAdjust="spacingAndGlyphs">AM ตามประกาศ กสทช.</text>
<text x="701.7" y="527" font-size="8.5" fill="#333" textLength="119.3" lengthAdjust="spacingAndGlyphs">เรื่อง แผนความถี่วิทยุกิจการกระจายเสียง</text>
<text x="836.6" y="504.5" font-size="5.5" fill="#3d3a92" textLength="10.9" lengthAdjust="spacingAndGlyphs">รวม</text>
<text x="828.8" y="520.3" font-size="16" fill="#3d3a92" stroke="#3d3a92" stroke-width="0.35" stroke-linejoin="round" textLength="24.9" lengthAdjust="spacingAndGlyphs">196</text>
<text x="827.2" y="527" font-size="6" fill="#3d3a92" textLength="26.5" lengthAdjust="spacingAndGlyphs">คลื่นความถี่</text>
<text x="860" y="512.5" font-size="8.5" fill="#555" textLength="84.4" lengthAdjust="spacingAndGlyphs">AM สาธารณะ (รายเดิม) 155</text>
<text x="860" y="525" font-size="8.5" fill="#555" textLength="79.7" lengthAdjust="spacingAndGlyphs">AM สาธารณะ (รายใหม่) 41</text>
<g>
<path d="M238.5,229 L261,216.5 L277,224.5 L255,237.5 Z" fill="#cf2530"/>
<path d="M238.5,229 L255,237.5 L255,243.5 L238.5,235 Z" fill="#f4f4f4"/>
<path d="M238.5,233 L255,241.5 L255,243.5 L238.5,235 Z" fill="#c8202a"/>
<path d="M255,237.5 L277,224.5 L277,230.5 L255,243.5 Z" fill="#9c1a22"/>
<ellipse cx="253" cy="226" rx="5.5" ry="2.8" fill="#f3c537"/>
<rect x="251.8" y="194" width="2.6" height="32" fill="#f3c537"/>
<path d="M237.5,211 L253,199 L269,196" stroke="#f3c537" stroke-width="2" fill="none"/>
<ellipse cx="238.5" cy="219.5" rx="6" ry="3.6" fill="#222"/>
<ellipse cx="268.5" cy="205.5" rx="6" ry="3.6" fill="#222"/>
<path d="M259,244 L276,236" stroke="#6a3f2e" stroke-width="3.2" stroke-linecap="round"/>
<rect x="277" y="221.5" width="12.5" height="17.5" rx="4.5" transform="rotate(-28 283.2 230.2)" fill="#6e412e"/>
<rect x="277.8" y="227.5" width="11" height="4" transform="rotate(-28 283.2 230.2)" fill="#8a5a40"/>
</g>
<g>
<path d="M146,522 L182,541 L262,500 L247,492 Z" fill="#e9e9e9" opacity="0.8"/>
<path d="M147,482 L162,474 L166,476 L166,500 L151,508 L147,506 Z" fill="#b07f52"/>
<path d="M180,458 L192,452 L196,454 L196,470 L184,476 L180,474 Z" fill="#b07f52"/>
<path d="M160,470 C160,462 166,458 172,458 L180,459 C184,461 186,466 188,472 L190,484 L166,492 L161,488 Z" fill="#3a3d43"/>
<path d="M170,459 L173,472 L177,459 Z" fill="#f2f2f2"/>
<ellipse cx="171.5" cy="452" rx="4.8" ry="5.6" fill="#efc0a0"/>
<path d="M166.5,451 Q167,444.5 172,444.5 Q177,445 176.5,450 L175,448 Q171,447.5 168,450 Z" fill="#8b5a35"/>
<path d="M192,451 C192,444 198,441 203,441 L210,442 C214,444 216,449 217,455 L219,467 L197,472 L193,468 Z" fill="#3a3d43"/>
<path d="M201,442 L204,454 L208,442 Z" fill="#f2f2f2"/>
<ellipse cx="204" cy="436" rx="4.8" ry="5.6" fill="#efc0a0"/>
<path d="M198.5,437 Q198,429.5 204,429.5 Q210,430 209.5,435 L207.5,432.5 Q203,432 200,437 L200,443 Z" fill="#e05a8a"/>
<path d="M155,489 L219,453.5 L248,466 L182,502 Z" fill="#d9b27e"/>
<path d="M155,489 L182,502 L182,535 L155,521 Z" fill="#c8955e"/>
<path d="M182,502 L248,466 L248,497 L182,535 Z" fill="#c49966"/>
<path d="M186,505 L198,498.5 L198,525 L186,531.5 Z M202,496 L214,489.5 L214,516 L202,522.5 Z M218,487 L230,480.5 L230,507 L218,513.5 Z M234,478.5 L244,473 L244,499 L234,504.5 Z" fill="#b3834f"/>
<path d="M187,479 L190,489 M218,460 L221,471" stroke="#222" stroke-width="1.3"/>
<path d="M186.5,489.5 L193.5,489.5 M217.5,471.5 L224.5,471.5" stroke="#222" stroke-width="1.6"/>
</g>
<g><line x1="721.5" y1="166" x2="721.5" y2="152.5" stroke="#555" stroke-width="1"/><path d="M717.5,165.5 L731,159.5 L742.5,164.5 L729,170.5 Z" fill="#f3b84c"/><path d="M717.5,165.5 L729,170.5 L729,183 L717.5,178 Z" fill="#3b3b40"/><path d="M729,170.5 L742.5,164.5 L742.5,177 L729,183 Z" fill="#e39a35"/><circle cx="723.3" cy="174.2" r="3.6" fill="#555" stroke="#e39a35" stroke-width="0.9"/><path d="M732,173 L740,169.5 L740,174 L732,177.5 Z" fill="#3b3b40"/></g>
<g><path d="M648.5,220 C648.5,216.5 651,216 654,216 C657,216 659,217 659.5,221 L660,236 L649,237 Z" fill="#c98590"/><rect x="650" y="236" width="7.5" height="16" fill="#4a3f45"/><path d="M652.5,217 L654,224 L655.5,217 Z" fill="#eee"/><circle cx="654" cy="212.8" r="3.3" fill="#ebbb9b"/><path d="M650.6,212.5 Q651,208.5 654.2,208.6 Q657.6,208.8 657.4,212 L656,210.8 Q653.5,210.2 651.6,213.5 Z" fill="#6a4030"/><path d="M654,230.5 L665,226.5 L670,228.5 L659,232.5 Z" fill="#dcae74"/><path d="M659,232.5 L670,228.5 L670,251 L659,255 Z" fill="#b98750"/><path d="M654,230.5 L659,232.5 L659,255 L654,253 Z" fill="#9c6c3c"/><path d="M660.5,229.5 L658,221" stroke="#333" stroke-width="0.9"/></g>
<g><path d="M772,228 L783,224.5 L789,226.5 L778,230 Z" fill="#c08550"/><path d="M772,228 L778,230 L778,242 L772,240 Z" fill="#8f552c"/><path d="M778,230 L789,226.5 L789,238.5 L778,242 Z" fill="#a96c3c"/><path d="M787,231 L800,226.5 L800.5,239 L787.5,243.5 Z" fill="#d7ecc9" stroke="#b9d9a8" stroke-width="0.6"/><ellipse cx="793.5" cy="247" rx="4.2" ry="2.4" fill="#e6bb3a"/><ellipse cx="797.8" cy="244.6" rx="3.4" ry="2" fill="#efc94a"/><path d="M777.5,239 C777.5,236.8 779,236.3 781.3,236.3 C783.6,236.3 785,236.8 785,239 L785,251 L777.5,251 Z" fill="#283040"/><rect x="778.5" y="251" width="5.5" height="6" fill="#1e2430"/><rect x="775" y="247" width="3.5" height="4.5" fill="#5a3a2a"/><path d="M780.3,236.6 L781.3,240 L782.3,236.6 Z" fill="#eee"/><circle cx="781.3" cy="233.8" r="2.3" fill="#ebbb9b"/></g>
</svg>
</body></html>
